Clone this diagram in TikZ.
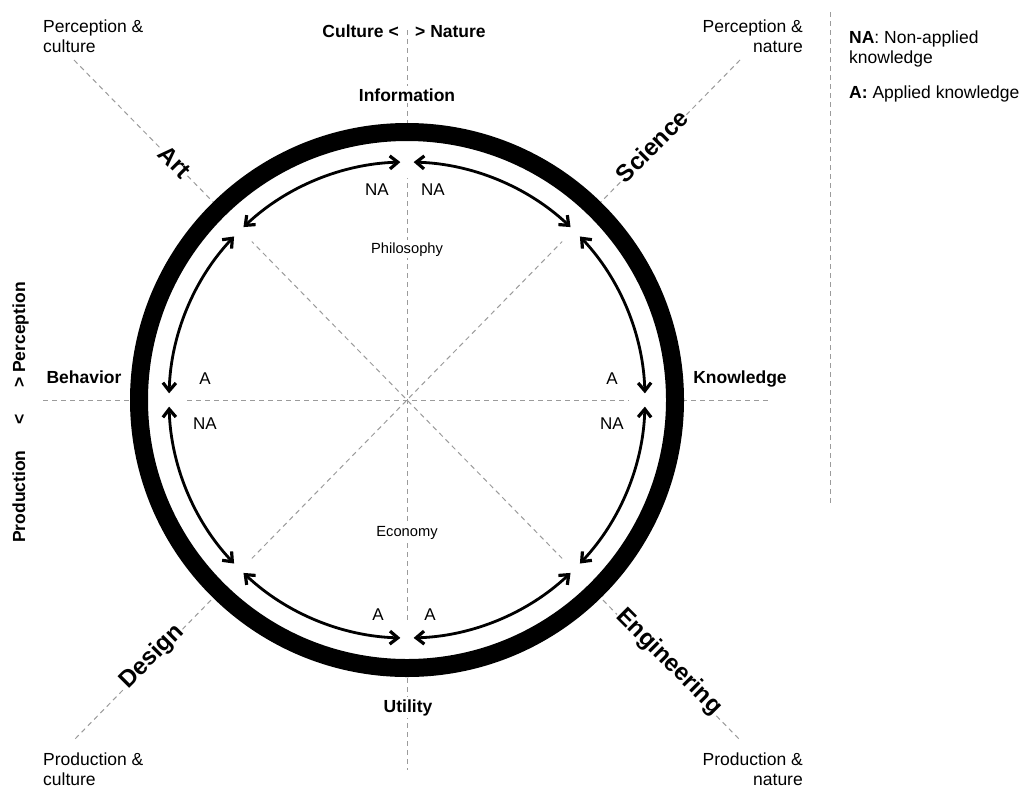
\documentclass[tikz,border=0pt]{standalone}
\usepackage{fontspec}
\setmainfont{Liberation Sans}
\usetikzlibrary{arrows.meta}
\definecolor{dashgray}{RGB}{155,155,155}
\begin{document}
\begin{tikzpicture}[x=1pt,y=-1pt,
  dline/.style={draw=dashgray, line width=1pt, dash pattern=on 5pt off 4pt},
  bigb/.style={font=\fontsize{17.5}{20}\selectfont\bfseries, inner sep=2pt, anchor=base, fill=white},
  reg/.style={font=\fontsize{17.5}{20}\selectfont, inner sep=0pt},
  smalllab/.style={font=\fontsize{14.7}{17}\selectfont, inner sep=2pt, fill=white, anchor=base},
  diaglab/.style={font=\fontsize{24}{28}\selectfont\bfseries, inner sep=1pt, fill=white},
  inlab/.style={font=\fontsize{17}{20}\selectfont, inner sep=0pt, anchor=base},
  flow/.style={line width=2.8pt, {Straight Barb[length=8pt,width=13pt,line width=3.2pt]}-{Straight Barb[length=8pt,width=13pt,line width=3.2pt]}},
]
\useasboundingbox (0,0) rectangle (1024,787);
\coordinate (O) at (407,400);
% axes
\draw[dline] (407,30) -- (407,770);
\draw[dline] (43,400) -- (768,400);
\draw[dline] (74,60) -- (740,740);
\draw[dline] (740,60) -- (74,740);
\draw[dline] (830,12) -- (830,505);
% white annulus and ring
\draw[white, line width=38pt] (O) circle[radius=241];
\draw[line width=18pt] (O) circle[radius=268];
% inner arrows
\foreach \k in {0,...,7}{
  \pgfmathsetmacro\sa{45*\k+1.6}
  \pgfmathsetmacro\ea{45*\k+43.4}
  \draw[flow] (O) ++(\sa:238) arc[start angle=\sa, end angle=\ea, radius=238];
}
% axis labels
\node[bigb] (info) at (407,101) {Information};
\node[bigb] (util) at (408,712) {Utility};
\node[bigb] (beh) at (84,383) {Behavior};
\node[bigb] (know) at (740,383) {Knowledge};
\node[bigb, anchor=base east] (cult) at (401,37) {Culture <};
\node[bigb, anchor=base west] (nat) at (413,37) {> Nature};
\node[bigb, rotate=90, anchor=base west] (perc) at (25,390) {> Perception};
\node[bigb, rotate=90, anchor=base east] (prod) at (25,412) {Production\hspace{26pt}<};
% diagonal labels
\node[diaglab, rotate=-45] (art) at (175,162) {Art};
\node[diaglab, rotate=45] (sci) at (652,146) {Science};
\node[diaglab, rotate=45] (des) at (152,657) {Design};
\node[diaglab, rotate=-45] (eng) at (669,662) {Engineering};
% inner labels
\node[smalllab] (phil) at (407,253) {Philosophy};
\node[smalllab] (econ) at (407,536) {Economy};
\node[inlab] (na1) at (377,195) {NA};
\node[inlab] (na2) at (433,195) {NA};
\node[inlab] (a1) at (378,620) {A};
\node[inlab] (a2) at (430,620) {A};
\node[inlab] (a3) at (205,384) {A};
\node[inlab] (na3) at (205,429) {NA};
\node[inlab] (a4) at (612,384) {A};
\node[inlab] (na4) at (612,429) {NA};
% corner labels
\node[reg, anchor=base west] (tl1) at (43,32) {Perception \&};
\node[reg, anchor=base west] (tl2) at (43,52) {culture};
\node[reg, anchor=base east] (tr1) at (803,32) {Perception \&};
\node[reg, anchor=base east] (tr2) at (803,52) {nature};
\node[reg, anchor=base west] (bl1) at (43,765) {Production \&};
\node[reg, anchor=base west] (bl2) at (43,785) {culture};
\node[reg, anchor=base east] (br1) at (803,765) {Production \&};
\node[reg, anchor=base east] (br2) at (803,785) {nature};
% legend
\node[reg, anchor=base west] (lg1) at (849,43) {\textbf{NA}: Non-applied};
\node[reg, anchor=base west] (lg2) at (849,63) {knowledge};
\node[reg, anchor=base west] (lg3) at (849,98) {\textbf{A:} Applied knowledge};
\end{tikzpicture}
\end{document}
